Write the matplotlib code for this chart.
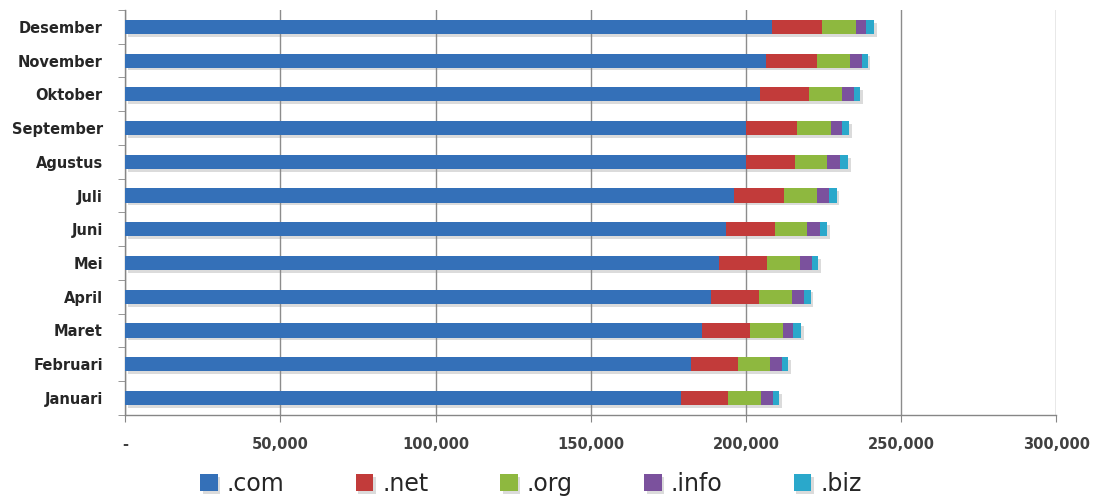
import numpy as np
import matplotlib
matplotlib.use("Agg")
import matplotlib.pyplot as plt
import matplotlib.patheffects as pe
from matplotlib.ticker import FixedLocator

# ==============================
# DATA (jumlah domain per bulan)
# ==============================
months = ["Januari", "Februari", "Maret", "April", "Mei", "Juni",
          "Juli", "Agustus", "September", "Oktober", "November", "Desember"]

com = [179200, 182200, 185800, 188800, 191300, 193700,
       196300, 199900, 200100, 204400, 206600, 208300]
net = [15100, 15100, 15500, 15500, 15600, 15600,
       15900, 15900, 16200, 15900, 16300, 16100]
org = [10500, 10400, 10500, 10500, 10400, 10500,
       10600, 10400, 11000, 10500, 10500, 10900]
info = [4000, 4000, 3500, 4000, 4100, 3900,
        3900, 4100, 3500, 4000, 3900, 3500]
biz = [2000, 2000, 2400, 2000, 1800, 2500,
       2500, 2500, 2500, 1900, 1900, 2400]

series = [(".com", com, "#3470B8"),
          (".net", net, "#C23B3A"),
          (".org", org, "#8EB83F"),
          (".info", info, "#7B519D"),
          (".biz", biz, "#2AA8CB")]

x_ticks = [0, 50000, 100000, 150000, 200000, 250000, 300000]
x_labels = ["-", "50,000", "100,000", "150,000", "200,000", "250,000", "300,000"]

# ==============================
# PLOT
# ==============================
fig = plt.figure(figsize=(10.97, 5.01), dpi=100)
ax = fig.add_axes([0.114, 0.172, 0.849, 0.808])

y = np.arange(len(months))
left = np.zeros(len(months))
shadow = [pe.SimplePatchShadow(offset=(2, -2), shadow_rgbFace="#888888", alpha=0.3), pe.Normal()]
for name, vals, color in series:
    vals = np.array(vals, dtype=float)
    ax.barh(y, vals, left=left, height=0.42, color=color, label=name,
            zorder=3, path_effects=shadow)
    left += vals

ax.set_xlim(0, 300000)
ax.set_ylim(-0.5, len(months) - 0.5)

ax.set_xticks(x_ticks)
ax.set_xticklabels(x_labels)
ax.set_yticks(y)
ax.set_yticklabels(months)
ax.yaxis.set_minor_locator(FixedLocator(np.arange(-0.5, len(months), 1.0)))

ax.grid(axis="x", color="#8c8c8c", linewidth=1, zorder=0)
for s in ("top", "right"):
    ax.spines[s].set_visible(False)
for s in ("left", "bottom"):
    ax.spines[s].set_color("#868686")
    ax.spines[s].set_linewidth(1)

ax.tick_params(axis="y", which="major", length=0, pad=16)
ax.tick_params(axis="y", which="minor", length=5, color="#868686", direction="out")
ax.tick_params(axis="x", length=5, color="#868686", direction="out", pad=11)

for lbl in ax.get_yticklabels():
    lbl.set_fontsize(10.5)
    lbl.set_fontweight("bold")
    lbl.set_color("#262626")
for lbl in ax.get_xticklabels():
    lbl.set_fontsize(10.5)
    lbl.set_fontweight("bold")
    lbl.set_color("#404040")

leg = fig.legend(loc="center", bbox_to_anchor=(0.484, 0.034), ncol=5,
                 frameon=False, fontsize=17, handlelength=0.75, handleheight=0.75,
                 handletextpad=0.4, columnspacing=3.0)
for t in leg.get_texts():
    t.set_color("#262626")

fig.savefig("out.png", dpi=100)
